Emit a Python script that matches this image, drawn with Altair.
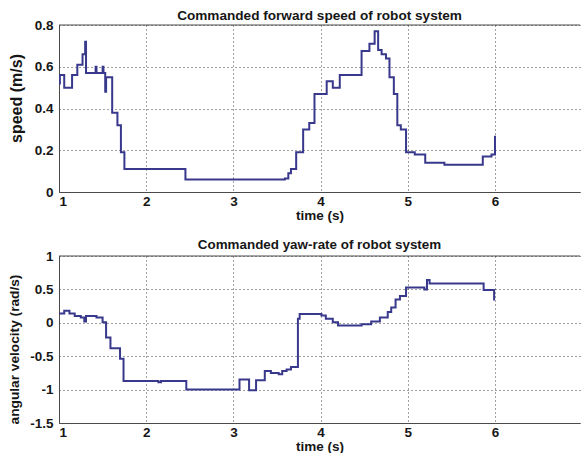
import altair as alt
import pandas as pd

# Commanded forward speed (m/s): step changes at the given times (s)
speed_t = [1.00, 1.01, 1.06, 1.15, 1.21, 1.27, 1.30, 1.31, 1.42, 1.43, 1.50, 1.51,
           1.53, 1.54, 1.61, 1.67, 1.71, 1.75, 2.45, 3.59, 3.63, 3.66, 3.72, 3.80,
           3.87, 3.93, 4.07, 4.14, 4.22, 4.47, 4.56, 4.62, 4.66, 4.70, 4.75, 4.79,
           4.84, 4.88, 4.92, 4.98, 5.08, 5.20, 5.42, 5.86, 5.96, 6.00]
speed_v = [0.52, 0.56, 0.50, 0.56, 0.61, 0.66, 0.72, 0.57, 0.60, 0.57, 0.60, 0.57,
           0.48, 0.55, 0.38, 0.32, 0.19, 0.11, 0.06, 0.065, 0.09, 0.11, 0.19, 0.30,
           0.33, 0.47, 0.53, 0.50, 0.56, 0.675, 0.71, 0.77, 0.68, 0.66, 0.64, 0.55,
           0.47, 0.32, 0.30, 0.19, 0.18, 0.14, 0.13, 0.17, 0.18, 0.27]

# Commanded yaw-rate (rad/s)
yaw_t = [1.00, 1.06, 1.12, 1.18, 1.25, 1.29, 1.31, 1.43, 1.50, 1.54, 1.59, 1.70,
         1.74, 2.14, 2.17, 2.46, 3.07, 3.18, 3.26, 3.36, 3.43, 3.52, 3.56, 3.61,
         3.66, 3.74, 3.76, 4.01, 4.06, 4.14, 4.20, 4.47, 4.58, 4.68, 4.77, 4.81,
         4.86, 4.91, 4.98, 5.19, 5.22, 5.25, 5.87, 5.99, 6.00]
yaw_v = [0.14, 0.18, 0.14, 0.10, 0.08, 0.02, 0.10, 0.08, 0.01, -0.22, -0.38, -0.54,
         -0.87, -0.89, -0.87, -1.00, -0.85, -1.01, -0.86, -0.72, -0.75, -0.77, -0.72, -0.70,
         -0.66, 0.06, 0.13, 0.11, 0.06, 0.01, -0.04, -0.02, 0.02, 0.08, 0.16, 0.23,
         0.35, 0.40, 0.53, 0.50, 0.64, 0.59, 0.49, 0.35, 0.35]

x_ticks = [1, 2, 3, 4, 5, 6]
speed_ticks = [0, 0.2, 0.4, 0.6, 0.8]
yaw_ticks = [-1.5, -1, -0.5, 0, 0.5, 1]

W = 521
H = 167
X_DOMAIN = [1, 6.975]
FONT = "Liberation Sans"
LINE_COLOR = "#38388c"
FRAME_COLOR = "#4a4a4a"
TEXT_COLOR = "#161616"

LABEL_EXPR = "datum.value < 0 ? '-' + format(-datum.value, '~g') : format(datum.value, '~g')"


def panel(t, v, title, title_size, title_gap, ytitle, ytitle_size,
          ytitle_x, ytitle_y, ydomain, yticks):
    df = pd.DataFrame({"t": t, "v": v})
    x = alt.X(
        "t:Q",
        scale=alt.Scale(domain=X_DOMAIN, nice=False, zero=False),
        axis=alt.Axis(values=x_ticks, title="time (s)", labelPadding=2,
                      titleX=W / 2, titleY=23, titleAlign="center",
                      titleBaseline="middle", labelExpr=LABEL_EXPR),
    )
    y = alt.Y(
        "v:Q",
        scale=alt.Scale(domain=ydomain, nice=False, zero=False),
        axis=alt.Axis(values=yticks, title=ytitle, labelPadding=6,
                      titleFontSize=ytitle_size,
                      titleX=ytitle_x, titleY=ytitle_y, titleAlign="center",
                      titleBaseline="middle", labelExpr=LABEL_EXPR),
    )
    line = alt.Chart(df).mark_line(
        interpolate="step-after", color=LINE_COLOR, strokeWidth=2, clip=True
    ).encode(x=x, y=y)
    one = pd.DataFrame({"k": [0]})
    # top edge of the axes box
    frame = alt.Chart(one).mark_rule(
        color=FRAME_COLOR, strokeWidth=1
    ).encode(x=alt.value(0), x2=alt.value(W), y=alt.value(0))
    # panel heading, centred over the axes box
    heading = alt.Chart(one).mark_text(
        font=FONT, fontSize=title_size, fontWeight="bold", color=TEXT_COLOR,
        align="center", baseline="alphabetic",
    ).encode(x=alt.value(W / 2), y=alt.value(-title_gap), text=alt.value(title))
    return alt.layer(line, frame, heading).properties(width=W, height=H)


top = panel(speed_t, speed_v, "Commanded forward speed of robot system", 13.6, 5.5,
            "speed (m/s)", 16, -42.7, 73, [0, 0.8], speed_ticks)
bottom = panel(yaw_t, yaw_v, "Commanded yaw-rate of robot system", 13.4, 7,
               "angular velocity (rad/s)", 13.7, -44.3, 93, [-1.5, 1], yaw_ticks)

chart = alt.vconcat(top, bottom, spacing=16).properties(
    padding={"left": 7, "top": 8, "right": 0, "bottom": 0},
    background="white",
).configure_view(
    strokeWidth=0
).configure_axis(
    domainColor=FRAME_COLOR,
    domainWidth=1,
    ticks=False,
    grid=True,
    gridColor="#222222",
    gridDash=[1, 3],
    gridOpacity=0.85,
    gridWidth=1,
    labelFont=FONT,
    labelFontSize=13.5,
    labelFontWeight="bold",
    labelColor=TEXT_COLOR,
    titleFont=FONT,
    titleFontSize=13.5,
    titleFontWeight="bold",
    titleColor=TEXT_COLOR,
)

chart.save("out.html", embed_options={"renderer": "svg", "actions": False})
